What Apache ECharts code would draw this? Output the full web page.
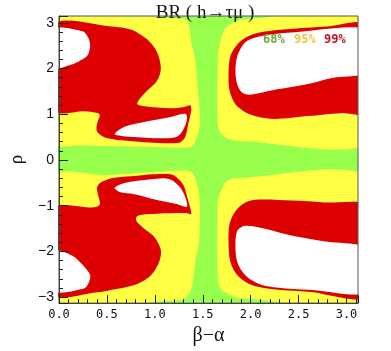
<!DOCTYPE html>
<html><head><meta charset="utf-8">
<script src="https://cdn.jsdelivr.net/npm/echarts@6/dist/echarts.min.js"></script>
<style>html,body{margin:0;padding:0;background:#fff}#c{width:391px;height:351px}</style>
</head><body><div id="c"></div>
<script>
// axis ranges / ticks
const xRange = [0, 3.12];
const yRange = [-3.13, 3.15];
const xTickStep = 0.5;
const legendLabels = ['68%', '95%', '99%'];

// 68% region (whole frame)
const region68 = [[-0.1,-3.3],[3.3,-3.3],[3.3,3.3],[-0.1,3.3]];

// 95% regions
const region95TopLeft = [[-0.05,0.39],[-0.05,3.085],[1.30,3.085],[1.35,3.0],[1.38,2.58],[1.42,2.21],[1.45,1.51],[1.47,0.79],[1.43,0.45],[1.38,0.29],[1.25,0.27],[0.9,0.29],[0.27,0.32]];
const region95TopRight = [[3.25,3.07],[1.91,3.07],[1.74,2.89],[1.68,2.575],[1.657,2.2],[1.657,0.79],[1.69,0.58],[1.76,0.47],[1.91,0.41],[3.25,0.41]];
const region95BottomLeft = [[-0.05,-0.369],[0.5,-0.33],[1.0,-0.26],[1.30,-0.23],[1.40,-0.30],[1.462,-0.758],[1.472,-1.331],[1.452,-1.968],[1.43,-2.1],[1.401,-2.605],[1.37,-2.881],[1.31,-3.03],[1.2,-3.075],[-0.05,-3.08]];
const region95BottomRight = [[3.25,-0.40],[1.84,-0.40],[1.739,-0.482],[1.688,-0.694],[1.657,-0.9],[1.657,-2.605],[1.688,-2.817],[1.78,-2.945],[1.913,-3.03],[3.25,-3.03]];

// 99% regions
const region99TopLeft = [[-0.05,2.958],[0.550,2.921],[0.755,2.851],[0.919,2.639],[1.022,2.363],[1.063,2.002],[1.022,1.726],[0.919,1.514],[0.837,1.323],[0.817,1.217],[0.888,1.174],[1.165,1.132],[1.298,1.153],[1.370,1.195],[1.380,1.089],[1.349,0.792],[1.319,0.516],[1.267,0.389],[1.165,0.367],[0.888,0.389],[0.653,0.431],[0.478,0.495],[0.397,0.622],[0.397,0.792],[0.427,0.983],[0.407,1.025],[0.274,1.068],[-0.05,1.089]];
const region99TopRight = [[3.25,2.936],[2.763,2.915],[2.251,2.837],[2.015,2.745],[1.882,2.575],[1.790,2.278],[1.769,1.854],[1.780,1.514],[1.841,1.217],[1.944,1.047],[2.087,0.941],[2.251,0.898],[2.600,0.962],[2.937,1.025],[3.25,1.05]];
const region99BottomLeft = [[-0.05,-1.076],[0.376,-1.034],[0.427,-0.970],[0.407,-0.758],[0.397,-0.609],[0.427,-0.503],[0.550,-0.397],[0.755,-0.355],[0.991,-0.312],[1.165,-0.312],[1.226,-0.376],[1.298,-0.546],[1.339,-0.822],[1.380,-1.183],[1.329,-1.161],[1.226,-1.161],[0.960,-1.183],[0.817,-1.225],[0.806,-1.331],[0.888,-1.501],[0.991,-1.671],[1.063,-1.968],[1.042,-2.244],[0.960,-2.520],[0.817,-2.711],[0.612,-2.817],[0.376,-2.90],[-0.05,-2.94]];
const region99BottomRight = [[3.25,-1.034],[2.763,-0.928],[2.425,-0.885],[2.087,-0.864],[1.944,-0.928],[1.841,-1.119],[1.780,-1.395],[1.769,-1.819],[1.790,-2.244],[1.862,-2.520],[1.985,-2.711],[2.190,-2.817],[2.600,-2.881],[3.25,-2.966]];

// outside 99% (white)
const outTopLeftCorner = [[-0.05,2.851],[0.243,2.815],[0.304,2.682],[0.325,2.490],[0.294,2.278],[0.202,2.151],[0.099,2.066],[-0.05,2.002]];
const outTopLeftIsland = [[0.581,0.570],[0.683,0.728],[0.888,0.834],[1.165,0.941],[1.319,1.010],[1.335,0.877],[1.285,0.622],[1.226,0.505],[1.063,0.474],[0.817,0.500],[0.653,0.527]];
const outTopRight = [[3.25,2.837],[2.425,2.788],[2.087,2.703],[1.944,2.575],[1.862,2.278],[1.841,1.938],[1.862,1.641],[1.913,1.471],[1.995,1.429],[2.251,1.535],[2.600,1.662],[2.835,1.790],[3.25,1.96]];
const outBottomLeftCorner = [[-0.05,-1.989],[0.140,-2.095],[0.253,-2.308],[0.325,-2.520],[0.304,-2.711],[0.253,-2.817],[-0.05,-2.860]];
const outBottomLeftIsland = [[0.581,-0.609],[0.683,-0.503],[0.888,-0.439],[1.093,-0.397],[1.175,-0.439],[1.267,-0.609],[1.319,-0.822],[1.335,-1.020],[1.226,-0.960],[1.022,-0.874],[0.786,-0.747],[0.632,-0.700]];
const outBottomRight = [[3.25,-1.968],[2.763,-1.777],[2.425,-1.650],[2.149,-1.501],[1.944,-1.437],[1.862,-1.543],[1.841,-1.883],[1.862,-2.244],[1.944,-2.520],[2.087,-2.711],[2.292,-2.796],[2.600,-2.839],[3.25,-2.881]];

const C68 = '#99FF4D', C95 = '#FFFF44', C99 = '#DD0000', COUT = '#FFFFFF';
const layers = [
  [region68, C68, 0],
  [region95TopLeft, C95, 0.3],[region95TopRight, C95, 0.3],[region95BottomLeft, C95, 0.3],[region95BottomRight, C95, 0.3],
  [region99TopLeft, C99, 0.3],[region99TopRight, C99, 0.3],[region99BottomLeft, C99, 0.3],[region99BottomRight, C99, 0.3],
  [outTopLeftCorner, COUT, 0.3],[outTopLeftIsland, COUT, 0.3],[outTopRight, COUT, 0.3],
  [outBottomLeftCorner, COUT, 0.3],[outBottomLeftIsland, COUT, 0.3],[outBottomRight, COUT, 0.3]
];

const series = layers.map(([poly, color, sm], i) => ({
  type: 'custom', clip: true, z: 2, silent: true,
  data: [poly[0]],
  renderItem: function (params, api) {
    const pts = poly.map(p => api.coord(p));
    return { type: 'polygon', shape: { points: pts, smooth: sm }, style: { fill: color, stroke: null } };
  }
}));

const chart = echarts.init(document.getElementById('c'), null, { renderer: 'canvas' });
const tickColor = '#222';
chart.setOption({
  animation: false,
  backgroundColor: '#fff',
  grid: { left: 53.3, right: 33, top: 16, bottom: 39.3, show: true, borderColor: '#555', borderWidth: 1, backgroundColor: 'transparent', z: 10 },
  title: { text: 'BR ( h\u2192\u03C4\u03BC )', left: 200, top: -1, textAlign: 'center',
    textStyle: { fontFamily: 'Liberation Serif', fontSize: 19, fontWeight: 'normal', color: '#111' } },
  xAxis: {
    type: 'value', min: xRange[0], max: xRange[1], interval: xTickStep, z: 12,
    name: '\u03B2\u2212\u03B1', nameLocation: 'middle', nameGap: 22,
    nameTextStyle: { fontFamily: 'Liberation Serif', fontSize: 20, color: '#111' },
    axisLine: { show: true, onZero: false, lineStyle: { color: '#444', width: 1 } },
    axisTick: { show: true, inside: true, length: 8, lineStyle: { color: tickColor } },
    minorTick: { show: true, splitNumber: 5, length: 4, lineStyle: { color: tickColor } },
    splitLine: { show: false },
    axisLabel: { showMaxLabel: false, margin: 6, fontFamily: 'DejaVu Sans Mono', fontSize: 12, color: '#111',
      formatter: v => (Math.abs(v * 2 - Math.round(v * 2)) < 1e-6 ? v.toFixed(1) : '') }
  },
  yAxis: {
    type: 'value', min: yRange[0], max: yRange[1], splitNumber: 6, z: 12,
    name: '\u03C1', nameLocation: 'middle', nameGap: 32, nameRotate: 90,
    nameTextStyle: { fontFamily: 'Liberation Serif', fontSize: 19, color: '#111' },
    axisLine: { show: true, onZero: false, lineStyle: { color: '#444', width: 1 } },
    axisTick: { show: true, inside: true, length: 9, lineStyle: { color: tickColor } },
    minorTick: { show: true, splitNumber: 5, length: 4, lineStyle: { color: tickColor } },
    splitLine: { show: false },
    axisLabel: { margin: 5, fontFamily: 'Liberation Sans', fontSize: 14, color: '#111',
      formatter: v => (Math.abs(v - Math.round(v)) < 1e-6 ? String(Math.round(v)).replace('-', '\u2212') : '') }
  },
  graphic: [
    { type: 'text', left: 263, top: 34, z: 20, style: { text: legendLabels[0], fill: '#6BA53A', font: 'bold 12px "DejaVu Sans Mono"' } },
    { type: 'text', left: 294, top: 34, z: 20, style: { text: legendLabels[1], fill: '#F2C43C', font: 'bold 12px "DejaVu Sans Mono"' } },
    { type: 'text', left: 324, top: 34, z: 20, style: { text: legendLabels[2], fill: '#C0111B', font: 'bold 12px "DejaVu Sans Mono"' } }
  ],
  series: series
});
</script></body></html>
